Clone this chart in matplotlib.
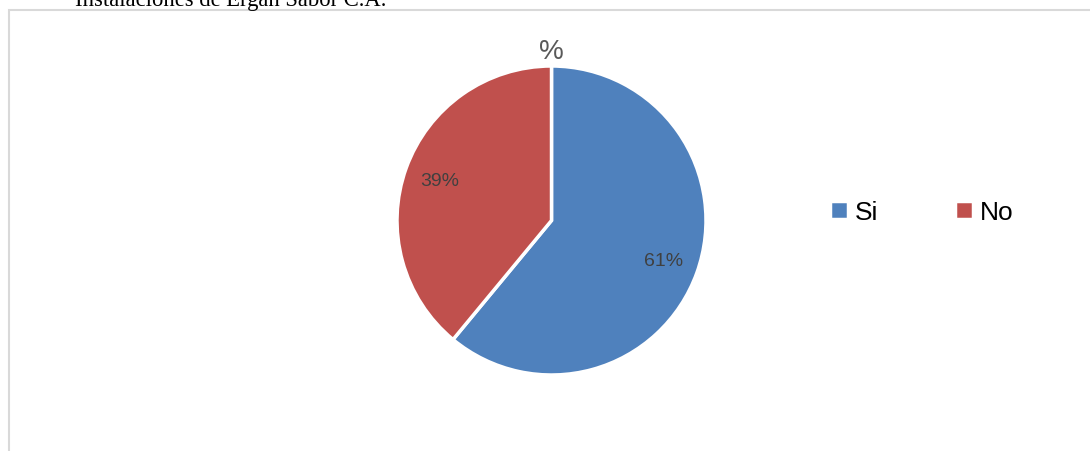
import matplotlib
matplotlib.use("Agg")
import matplotlib.pyplot as plt
from matplotlib.patches import Rectangle

# Answers to the survey question
labels = ["Si", "No"]
shares = [61, 39]
colors = ["#4f81bd", "#c0504d"]

W, H = 1090, 452
fig = plt.figure(figsize=(W / 100, H / 100), dpi=100)
sans = ["Liberation Sans", "DejaVu Sans"]

# caption above the chart (partly cut at the top edge)
fig.text(75 / W, 1 - 6 / H, "Instalaciones de Ergan Sabor C.A.", family="Liberation Serif",
         fontsize=16.3, color="black", ha="left", va="baseline")

# chart area frame
fig.patches.append(Rectangle((9 / W, -0.1), 1.2, 1.1 - 11 / H, transform=fig.transFigure,
                             fill=False, edgecolor="#d9d9d9", linewidth=1.5))

cx, cy, r = 551.5, 221.5, 154.5
ax = fig.add_axes([(cx - r) / W, 1 - (cy + r) / H, 2 * r / W, 2 * r / H])
wedges, _, autotexts = ax.pie(shares, colors=colors, startangle=90, counterclock=False,
                              autopct="%d%%", pctdistance=0.77,
                              wedgeprops=dict(edgecolor="white", linewidth=2.5),
                              textprops=dict(color="#404040", fontsize=14, family=sans))
ax.set_xlim(-1, 1)
ax.set_ylim(-1, 1)
ax.set_aspect("equal")

fig.text(551 / W, 1 - 52 / H, "%", fontsize=20, color="#595959", family=sans,
         ha="center", va="center")

fig.legend(wedges, labels, loc="center left", bbox_to_anchor=(830 / W, 1 - 213 / H),
           ncol=2, frameon=False, prop=dict(family=sans, size=19),
           handlelength=0.7, handleheight=0.65, columnspacing=2.9, handletextpad=0.25,
           borderpad=0, borderaxespad=0)

fig.savefig("out.png", dpi=100)
